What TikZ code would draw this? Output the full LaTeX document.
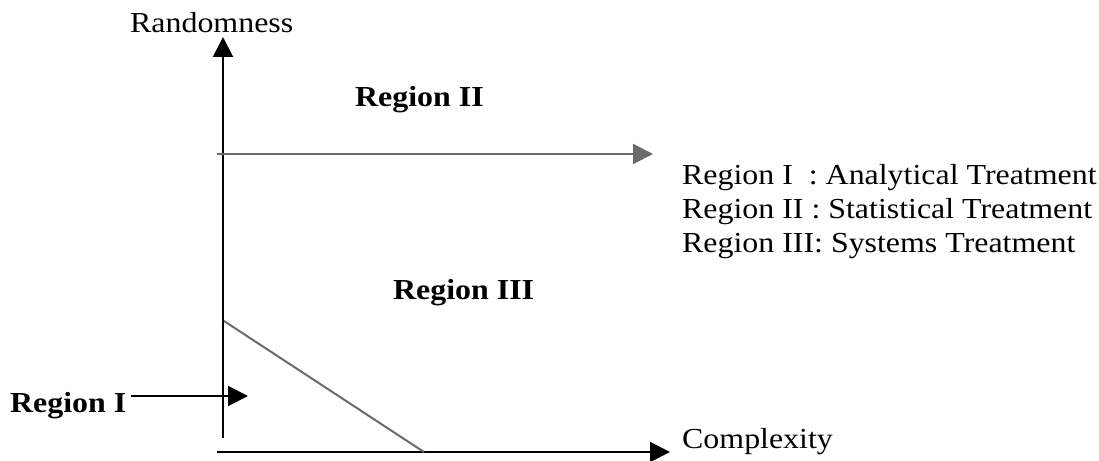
\documentclass[tikz,border=0pt]{standalone}
\usepackage{fontspec}
\setmainfont{Liberation Serif}[FakeStretch=1.1]
\usetikzlibrary{arrows.meta}
\definecolor{lgray}{HTML}{6B6B6B}
\tikzset{
  txt/.style={font=\fontsize{29}{34}\selectfont, inner sep=0pt},
  btxt/.style={font=\fontsize{29}{34}\selectfont\bfseries, inner sep=0pt},
  blackarrow/.style={line width=2pt, draw=black, -{Triangle[length=20pt,width=20pt]}},
  grayarrow/.style={line width=2pt, draw=lgray, -{Triangle[length=20pt,width=20pt]}},
  grayline/.style={line width=2pt, draw=lgray}
}
\begin{document}
\begin{tikzpicture}[x=1pt,y=-1pt]
\useasboundingbox (0,0) rectangle (1099,460);
% coordinates
\coordinate (ybot) at (223,438);
\coordinate (ytop) at (223,37);
\coordinate (xl) at (217,452);
\coordinate (xr) at (670,452);
\coordinate (hl) at (217,154);
\coordinate (hr) at (653,154);
\coordinate (d1) at (224,321);
\coordinate (d2) at (424,452);
% labels
\node[txt, anchor=base west] (rand) at (130,33) {Randomness};
\node[txt, anchor=base west] (cplx) at (682,448) {Complexity};
\node[btxt, anchor=base west] (r2) at (355,106) {Region II};
\node[btxt, anchor=base west] (r3) at (393,299) {Region III};
\node[btxt, anchor=base west] (r1) at (10,412) {Region I};
\coordinate (r1tip) at (248,396);
\node[txt, anchor=base west] (leg1) at (682,184) {Region I\ \ : Analytical Treatment};
\node[txt, anchor=base west] (leg2) at (682,218) {Region II : Statistical Treatment};
\node[txt, anchor=base west] (leg3) at (682,252) {Region III: Systems Treatment};
% axes
\draw[blackarrow] (ybot) -- (ytop);
\draw[blackarrow] (xl) -- (xr);
\draw[grayarrow] (hl) -- (hr);
\draw[grayline] (d1) -- (d2);
\draw[blackarrow] ([xshift=5pt]r1.east |- r1tip) -- (r1tip);
\end{tikzpicture}
\end{document}
